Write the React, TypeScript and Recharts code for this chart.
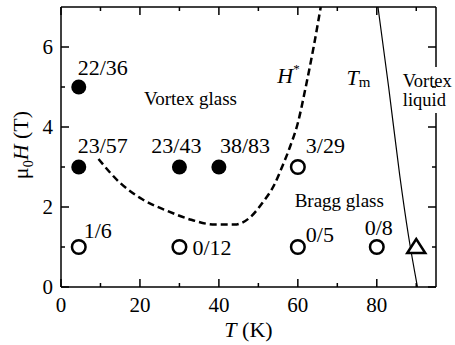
import React from "react";
import { ScatterChart, Scatter, XAxis, YAxis } from "recharts";

// measured points, T in K and mu0H in tesla
const filledPoints = [
  { T: 4.5, H: 5, n: "22/36" },
  { T: 4.5, H: 3, n: "23/57" },
  { T: 30, H: 3, n: "23/43" },
  { T: 40, H: 3, n: "38/83" },
];
const openPoints = [
  { T: 60, H: 3, n: "3/29" },
  { T: 4.5, H: 1, n: "1/6" },
  { T: 30, H: 1, n: "0/12" },
  { T: 60, H: 1, n: "0/5" },
  { T: 80, H: 1, n: "0/8" },
];
const trianglePoints = [{ T: 90, H: 1 }];

// H* crossover (dashed) and melting line Tm
const hStarLine = [
  { T: 9.5, H: 3.2 },
  { T: 15, H: 2.6 },
  { T: 20.5, H: 2.2 },
  { T: 27, H: 1.9 },
  { T: 33, H: 1.68 },
  { T: 39, H: 1.56 },
  { T: 44, H: 1.56 },
  { T: 48, H: 1.75 },
  { T: 51, H: 2.1 },
  { T: 54, H: 2.55 },
  { T: 56, H: 3.0 },
  { T: 58, H: 3.5 },
  { T: 60, H: 4.1 },
  { T: 62, H: 5.0 },
  { T: 64, H: 6.0 },
  { T: 65.8, H: 7.0 },
];
const tmLine = [
  { T: 80.3, H: 7 },
  { T: 83, H: 5 },
  { T: 85.8, H: 2.8 },
  { T: 88, H: 1.3 },
  { T: 90.3, H: 0 },
];

const regionNotes = [
  { T: 21, H: 4.55, text: "Vortex glass" },
  { T: 59.2, H: 2.0, text: "Bragg glass" },
  { T: 54.8, H: 5.1, text: "H*" },
  { T: 72.3, H: 5.05, text: "Tm" },
  { T: 86.6, H: 5.0, text: "Vortex liquid" },
];

const xMajor = [0, 20, 40, 60, 80];
const xMinor = [10, 30, 50, 70, 90];
const yMajor = [0, 2, 4, 6];
const yMinor = [1, 3, 5];
const xTicks = [...xMajor, ...xMinor].sort((a, b) => a - b);
const yTicks = [...yMajor, ...yMinor].sort((a, b) => a - b);

const FONT = "Liberation Serif";
const ink = "#000";
const axisStroke = { stroke: ink, strokeWidth: 1.5 };
const MAJOR = 8;
const MINOR = 4;

// where each count label sits relative to its symbol
const labelPlace: Record<string, { dx: number; dy: number; anchor: "start" | "middle" }> = {
  "22/36": { dx: -1, dy: -12, anchor: "start" },
  "23/57": { dx: -1, dy: -14, anchor: "start" },
  "23/43": { dx: -3, dy: -14, anchor: "middle" },
  "38/83": { dx: 1, dy: -14, anchor: "start" },
  "3/29": { dx: 8, dy: -14, anchor: "start" },
  "1/6": { dx: 5, dy: -9, anchor: "start" },
  "0/12": { dx: 13, dy: 8, anchor: "start" },
  "0/5": { dx: 8, dy: -5, anchor: "start" },
  "0/8": { dx: 2, dy: -12, anchor: "middle" },
};

const CountLabel = ({ cx, cy, n }: { cx: number; cy: number; n: string }) => {
  const p = labelPlace[n];
  return (
    <text x={cx + p.dx} y={cy + p.dy} textAnchor={p.anchor} fontSize={22} fontFamily={FONT} fill={ink}>
      {n}
    </text>
  );
};

const FilledDot = (props: any) => (
  <g>
    <circle cx={props.cx} cy={props.cy} r={7.5} fill={ink} />
    <CountLabel cx={props.cx} cy={props.cy} n={props.payload.n} />
  </g>
);

const OpenDot = (props: any) => (
  <g>
    <circle cx={props.cx} cy={props.cy} r={6.8} fill="#fff" stroke={ink} strokeWidth={2.5} />
    <CountLabel cx={props.cx} cy={props.cy} n={props.payload.n} />
  </g>
);

const OpenTriangle = (props: any) => {
  const { cx, cy } = props;
  return (
    <polygon
      points={`${cx},${cy - 8} ${cx - 9},${cy + 6} ${cx + 9},${cy + 6}`}
      fill="#fff"
      stroke={ink}
      strokeWidth={2.5}
    />
  );
};

const Note = (props: any) => {
  const { cx, cy } = props;
  const text: string = props.payload.text;
  const base = { fontFamily: FONT, fill: ink };
  if (text === "H*") {
    return (
      <text x={cx} y={cy} fontSize={22} fontStyle="italic" {...base}>
        H
        <tspan fontSize={13} fontStyle="normal" dy={-10}>*</tspan>
      </text>
    );
  }
  if (text === "Tm") {
    return (
      <text x={cx} y={cy} fontSize={22} fontStyle="italic" {...base}>
        T
        <tspan fontSize={15} fontStyle="normal" dy={2}>m</tspan>
      </text>
    );
  }
  if (text === "Vortex liquid") {
    return (
      <g>
        <rect x={cx - 2} y={cy - 20} width={60} height={46} fill="#fff" />
        <text x={cx} y={cy} fontSize={18.5} {...base}>Vortex</text>
        <text x={cx} y={cy + 19} fontSize={18.5} {...base}>liquid</text>
      </g>
    );
  }
  return (
    <text x={cx} y={cy} fontSize={19} {...base}>
      {text}
    </text>
  );
};

const NoMark = () => <g />;

// inward ticks: long at major values, short at minor; labels only where asked
const isMajor = (v: number, majors: number[]) => majors.includes(v);

const BottomTick = (p: any) => {
  const v = p.payload.value;
  const major = isMajor(v, xMajor);
  return (
    <g>
      <line x1={p.x} x2={p.x} y1={p.y} y2={p.y - (major ? MAJOR : MINOR)} {...axisStroke} />
      {major && (
        <text x={p.x} y={p.y + 25} textAnchor="middle" fontSize={21} fontFamily={FONT} fill={ink}>
          {v}
        </text>
      )}
    </g>
  );
};

const TopTick = (p: any) => {
  const major = isMajor(p.payload.value, xMajor);
  return <line x1={p.x} x2={p.x} y1={p.y} y2={p.y + (major ? MAJOR : MINOR)} {...axisStroke} />;
};

const LeftTick = (p: any) => {
  const v = p.payload.value;
  const major = isMajor(v, yMajor);
  return (
    <g>
      <line x1={p.x} x2={p.x + (major ? MAJOR : MINOR)} y1={p.y} y2={p.y} {...axisStroke} />
      {major && (
        <text x={p.x - 8} y={p.y + 7} textAnchor="end" fontSize={21} fontFamily={FONT} fill={ink}>
          {v}
        </text>
      )}
    </g>
  );
};

const RightTick = (p: any) => {
  const major = isMajor(p.payload.value, yMajor);
  return <line x1={p.x} x2={p.x - (major ? MAJOR : MINOR)} y1={p.y} y2={p.y} {...axisStroke} />;
};

export default function App() {
  return (
    <div style={{ position: "absolute", left: 0, top: 0, background: "#fff", fontFamily: FONT }}>
      <ScatterChart width={455} height={345} margin={{ top: 6, right: 18, left: 11, bottom: 28 }}>
        <XAxis
          type="number"
          dataKey="T"
          domain={[0, 95]}
          ticks={xTicks}
          interval={0}
          height={30}
          tickSize={0}
          tickMargin={0}
          tickLine={false}
          tick={BottomTick}
          axisLine={axisStroke}
          label={{
            content: (p: any) => (
              <text
                x={p.viewBox.x + p.viewBox.width / 2}
                y={p.viewBox.y + 50}
                textAnchor="middle"
                fontSize={22}
                fontFamily={FONT}
                fill={ink}
              >
                <tspan fontStyle="italic">T</tspan> (K)
              </text>
            ),
          }}
        />
        <XAxis
          xAxisId="top"
          orientation="top"
          type="number"
          dataKey="T"
          domain={[0, 95]}
          ticks={xTicks}
          interval={0}
          height={1}
          tickSize={0}
          tickMargin={0}
          tickLine={false}
          tick={TopTick}
          axisLine={axisStroke}
        />
        <YAxis
          type="number"
          dataKey="H"
          domain={[0, 7]}
          ticks={yTicks}
          interval={0}
          width={50}
          tickSize={0}
          tickMargin={0}
          tickLine={false}
          tick={LeftTick}
          axisLine={axisStroke}
          label={{
            content: () => (
              <text x={28} y={145} textAnchor="middle" transform="rotate(-90, 28, 145)" fontSize={22} fontFamily={FONT} fill={ink}>
                μ<tspan fontSize={14} dy={5}>0</tspan>
                <tspan fontStyle="italic" dy={-5}>H</tspan> (T)
              </text>
            ),
          }}
        />
        <YAxis
          yAxisId="right"
          orientation="right"
          type="number"
          dataKey="H"
          domain={[0, 7]}
          ticks={yTicks}
          interval={0}
          width={1}
          tickSize={0}
          tickMargin={0}
          tickLine={false}
          tick={RightTick}
          axisLine={axisStroke}
        />

        <Scatter
          data={hStarLine}
          xAxisId="top"
          yAxisId="right"
          shape={NoMark}
          line={{ stroke: ink, strokeWidth: 2.5, strokeDasharray: "7 4" }}
          lineJointType="monotoneX"
          isAnimationActive={false}
        />
        <Scatter data={tmLine} shape={NoMark} line={{ stroke: ink, strokeWidth: 1.2 }} lineJointType="monotoneX" isAnimationActive={false} />
        <Scatter data={filledPoints} shape={FilledDot} isAnimationActive={false} />
        <Scatter data={openPoints} shape={OpenDot} isAnimationActive={false} />
        <Scatter data={trianglePoints} shape={OpenTriangle} isAnimationActive={false} />
        <Scatter data={regionNotes} shape={Note} isAnimationActive={false} />
      </ScatterChart>
    </div>
  );
}
